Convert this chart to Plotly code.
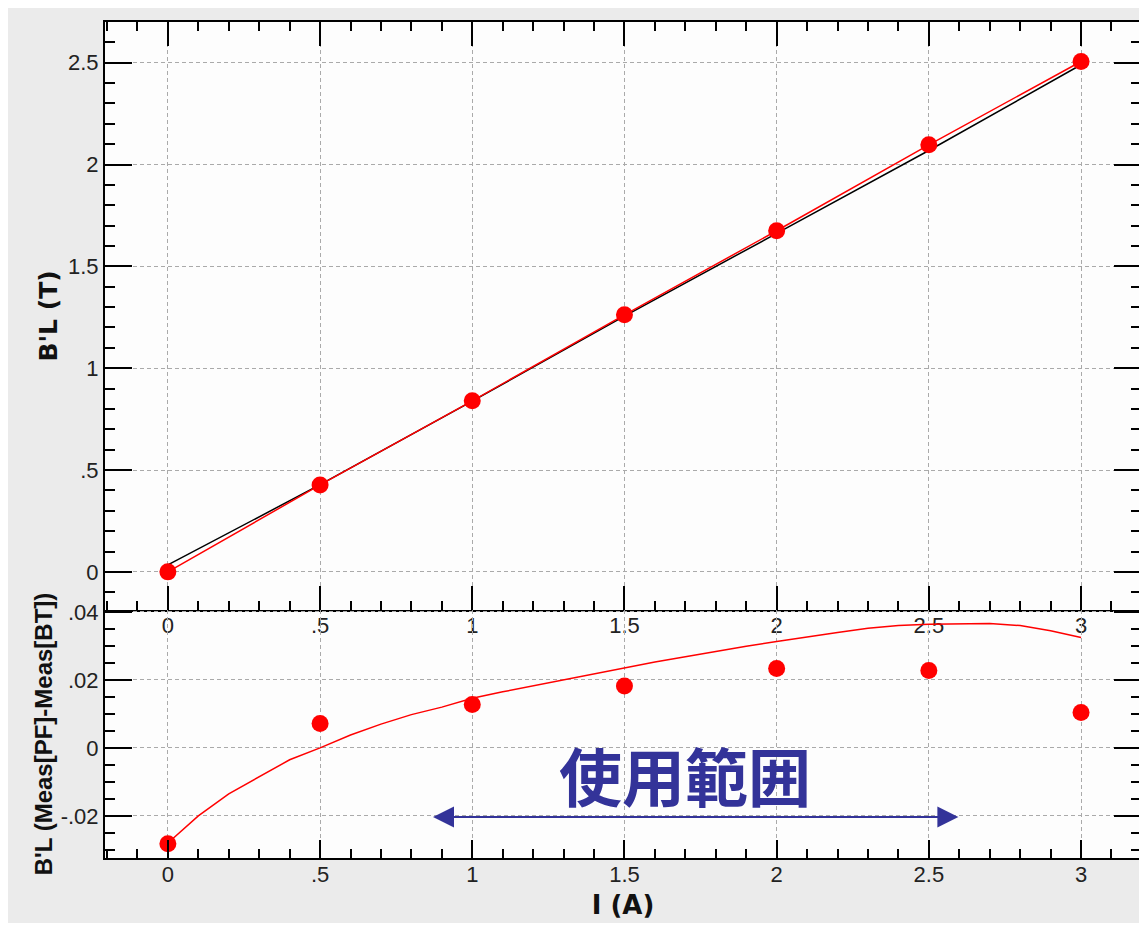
import plotly.graph_objects as go
from plotly.subplots import make_subplots

# ---- data ----
current = [0, 0.5, 1, 1.5, 2, 2.5, 3]
bl_meas = [0.0, 0.427, 0.84, 1.262, 1.675, 2.097, 2.506]
bl_ref = [0.034, 0.428, 0.838, 1.256, 1.662, 2.069, 2.49]

diff_meas = [-0.0282, 0.0072, 0.0128, 0.0182, 0.0234, 0.0228, 0.0104]
curve_current = [0, 0.1, 0.2, 0.3, 0.4, 0.5, 0.6, 0.7, 0.8, 0.9, 1.0,
                 1.1, 1.2, 1.3, 1.4, 1.5, 1.6, 1.7, 1.8, 1.9, 2.0,
                 2.1, 2.2, 2.3, 2.4, 2.5, 2.6, 2.7, 2.8, 2.9, 3.0]
curve_diff = [-0.028, -0.020, -0.0135, -0.0085, -0.0035, 0.0, 0.0038, 0.0070, 0.0098, 0.0120, 0.0146,
              0.0165, 0.0183, 0.0201, 0.0219, 0.0236, 0.0253, 0.0268, 0.0284, 0.0299, 0.0313,
              0.0327, 0.0340, 0.0352, 0.0360, 0.0364, 0.0366, 0.0366, 0.0360, 0.0345, 0.0325]

x_tickvals = [0, 0.5, 1, 1.5, 2, 2.5, 3]
x_ticktext = ["0", ".5", "1", "1.5", "2", "2.5", "3"]
top_y_tickvals = [0, 0.5, 1, 1.5, 2, 2.5]
top_y_ticktext = ["0", ".5", "1", "1.5", "2", "2.5"]
bot_y_tickvals = [-0.02, 0, 0.02, 0.04]
bot_y_ticktext = ["-.02", "0", ".02", ".04"]

range_label = "使用範囲"
range_arrow_x = [0.866, 2.597]
range_arrow_y = -0.0203
range_label_x = 1.698
range_label_y = -0.0074

# ---- style ----
RED = "#ff0000"
NAVY = "#333399"
GRID = "#aaaaaa"
TICKFONT = dict(family="Liberation Sans, Arial, sans-serif", size=22, color="#222222")
YTITLE_TOP = dict(family="DejaVu Sans, sans-serif", size=25, color="#111111")
YTITLE_BOT = dict(family="Liberation Sans, Arial, sans-serif", size=24, color="#111111")
XTITLE = dict(family="DejaVu Sans, sans-serif", size=26, color="#111111")

fig = make_subplots(rows=2, cols=1, row_heights=[0.7033, 0.2967], vertical_spacing=0.0)

fig.add_trace(go.Scatter(x=current, y=bl_ref, mode="lines",
                         line=dict(color="black", width=1.5), showlegend=False), row=1, col=1)
fig.add_trace(go.Scatter(x=current, y=bl_meas, mode="lines+markers",
                         line=dict(color=RED, width=1.5),
                         marker=dict(color=RED, size=17), showlegend=False), row=1, col=1)

fig.add_trace(go.Scatter(x=curve_current, y=curve_diff, mode="lines",
                         line=dict(color=RED, width=1.5), showlegend=False), row=2, col=1)
fig.add_trace(go.Scatter(x=current, y=diff_meas, mode="markers",
                         marker=dict(color=RED, size=17), showlegend=False), row=2, col=1)

common_axis = dict(showline=True, linecolor="black", linewidth=2,
                   ticks="inside", tickcolor="black", tickwidth=2,
                   showgrid=True, gridcolor=GRID, gridwidth=1, griddash="4px,3px",
                   zeroline=False, tickfont=TICKFONT, tickmode="array")

# top panel x
fig.update_xaxes(common_axis, range=[-0.2066, 3.197], tickvals=x_tickvals, ticktext=x_ticktext,
                 ticklen=24, mirror="ticks", showticklabels=True, ticklabelstandoff=-5,
                 minor=dict(ticks="inside", ticklen=9, tickwidth=2, tickcolor="black",
                            tickmode="linear", tick0=0, dtick=0.1, showgrid=False),
                 row=1, col=1)
# bottom panel x
fig.update_xaxes(common_axis, range=[-0.2066, 3.197], tickvals=x_tickvals, ticktext=x_ticktext,
                 ticklen=18, mirror=False, ticklabelstandoff=-4,
                 minor=dict(ticks="inside", ticklen=9, tickwidth=2, tickcolor="black",
                            tickmode="linear", tick0=0, dtick=0.1, showgrid=False),
                 title=dict(text="<b>I (A)</b>", font=XTITLE, standoff=9),
                 row=2, col=1)
# top panel y
fig.update_yaxes(common_axis, range=[-0.187, 2.70], tickvals=top_y_tickvals, ticktext=top_y_ticktext,
                 ticklen=27, mirror="ticks",
                 minor=dict(ticks="inside", ticklen=10, tickwidth=2, tickcolor="black",
                            tickmode="linear", tick0=0, dtick=0.1, showgrid=False),
                 title=dict(text="<b>B'L (T)</b>", font=YTITLE_TOP, standoff=3),
                 row=1, col=1)
# bottom panel y
fig.update_yaxes(common_axis, range=[-0.0324, 0.0406], tickvals=bot_y_tickvals, ticktext=bot_y_ticktext,
                 ticklen=27, mirror="ticks",
                 minor=dict(ticks="inside", ticklen=10, tickwidth=2, tickcolor="black",
                            tickmode="linear", tick0=0, dtick=0.005, showgrid=False),
                 title=dict(text="<b>B'L (Meas[PF]-Meas[BT])</b>", font=YTITLE_BOT, standoff=1),
                 row=2, col=1)

fig.add_annotation(x=range_label_x, y=range_label_y, xref="x2", yref="y2",
                   text="<b>" + range_label + "</b>", showarrow=False,
                   font=dict(family="Noto Sans CJK JP", size=63, color=NAVY))
fig.add_annotation(x=range_arrow_x[1], y=range_arrow_y, ax=range_arrow_x[0], ay=range_arrow_y,
                   xref="x2", yref="y2", axref="x2", ayref="y2", text="",
                   showarrow=True, arrowside="end+start", arrowhead=2, arrowsize=2.1,
                   arrowwidth=2, arrowcolor=NAVY, standoff=0, startstandoff=0)

fig.update_layout(width=1139, height=915,
                  margin=dict(l=97, r=4, t=14, b=65),
                  paper_bgcolor="#ebebeb", plot_bgcolor="#fdfdfd",
                  showlegend=False)

fig.write_html("out.html")
